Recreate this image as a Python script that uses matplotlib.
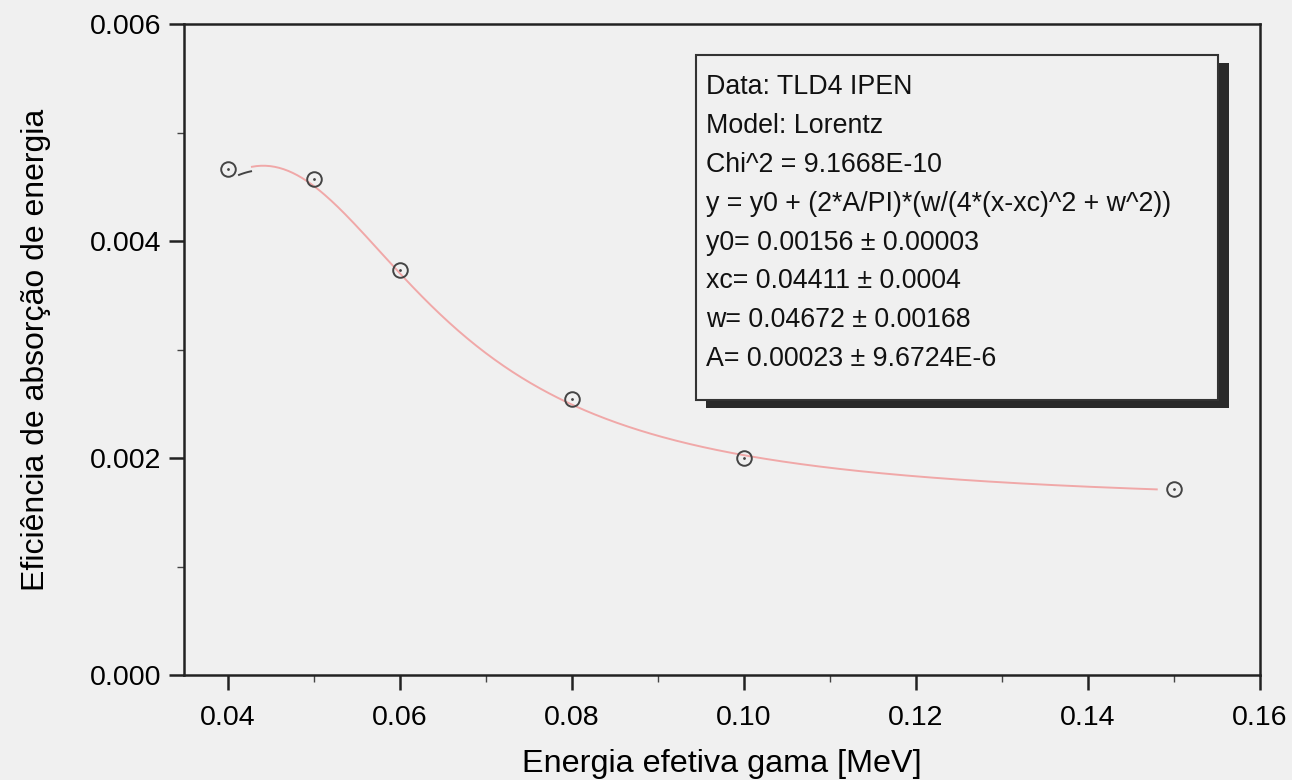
import numpy as np
import matplotlib
matplotlib.use("Agg")
import matplotlib.pyplot as plt
from matplotlib.patches import Rectangle
from matplotlib.ticker import MultipleLocator

plt.rcParams['font.family'] = ['Liberation Sans', 'DejaVu Sans']

# Data
energy = [0.04, 0.05, 0.06, 0.08, 0.10, 0.15]
efficiency = [0.00466, 0.00457, 0.00373, 0.00254, 0.00200, 0.00171]

# Lorentz fit parameters
y0, xc, w, A = 0.00156, 0.04411, 0.04672, 0.00023

box_lines = [
    "Data: TLD4 IPEN",
    "Model: Lorentz",
    "Chi^2 = 9.1668E-10",
    "y = y0 + (2*A/PI)*(w/(4*(x-xc)^2 + w^2))",
    "y0= 0.00156 \u00b1 0.00003",
    "xc= 0.04411 \u00b1 0.0004",
    "w= 0.04672 \u00b1 0.00168",
    "A= 0.00023 \u00b1 9.6724E-6",
]

bg = '#f0f0f0'
fig = plt.figure(figsize=(12.92, 7.80), dpi=100, facecolor=bg)
ax = fig.add_axes([0.1424, 0.1346, 0.8328, 0.8346], facecolor=bg)

def lorentz(x):
    return y0 + (2 * A / np.pi) * (w / (4 * (x - xc) ** 2 + w ** 2))

xf = np.linspace(0.0428, 0.148, 400)
ax.plot(xf, lorentz(xf), color='#f0a8a8', lw=1.4, zorder=2)
xs = np.linspace(0.0413, 0.0427, 10)
ax.plot(xs, lorentz(xs) - 0.00004, color='#444444', lw=1.4, zorder=2)

ax.plot(energy, efficiency, linestyle='none', marker='o', markersize=10.5,
        markerfacecolor='none', markeredgecolor='#444444', markeredgewidth=1.4, zorder=3)
ax.plot(energy, efficiency, linestyle='none', marker='.', markersize=2,
        color='#444444', zorder=3)

ax.set_xlim(0.0349, 0.16)
ax.set_ylim(0.0, 0.006)
ax.xaxis.set_minor_locator(MultipleLocator(0.01))
ax.yaxis.set_minor_locator(MultipleLocator(0.001))
ax.set_xticks([0.04, 0.06, 0.08, 0.10, 0.12, 0.14, 0.16])
ax.set_xticklabels(['0.04', '0.06', '0.08', '0.10', '0.12', '0.14', '0.16'])
ax.set_yticks([0.0, 0.002, 0.004, 0.006])
ax.set_yticklabels(['0.000', '0.002', '0.004', '0.006'])

ax.tick_params(axis='both', which='major', direction='out', length=10.5, width=1.8,
               labelsize=20.5, color='#222222')
ax.tick_params(axis='x', which='major', pad=11)
ax.tick_params(axis='y', which='major', pad=6)
ax.tick_params(axis='both', which='minor', direction='out', length=5, width=1.0,
               color='#444444')
for s in ax.spines.values():
    s.set_linewidth(1.8)
    s.set_color('#222222')

ax.set_xlabel('Energia efetiva gama [MeV]', fontsize=23.3, labelpad=13)
ax.set_ylabel('Eficiência de absorção de energia', fontsize=23, labelpad=28)

# Fit results box with shadow
ax.add_patch(Rectangle((0.485, 0.410), 0.486, 0.530, transform=ax.transAxes,
                       facecolor='#2a2a2a', edgecolor='none', zorder=4))
ax.add_patch(Rectangle((0.476, 0.4224), 0.485, 0.5296, transform=ax.transAxes,
                       facecolor=bg, edgecolor='#333333', lw=1.5, zorder=5))
for i, line in enumerate(box_lines):
    ax.text(0.485, 0.903 - i * 0.0597, line, transform=ax.transAxes,
            fontsize=19.3, va='center', ha='left', color='#111111', zorder=6)

fig.savefig('out.png', dpi=100, facecolor=bg)
